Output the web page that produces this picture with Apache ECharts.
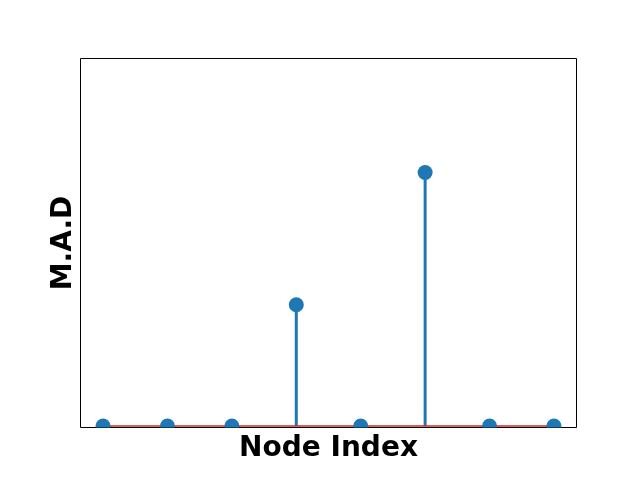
<!DOCTYPE html>
<html>
<head>
<meta charset="utf-8">
<script src="https://cdn.jsdelivr.net/npm/echarts@6/dist/echarts.min.js"></script>
<style>
  html, body { margin: 0; padding: 0; background: #fff; }
  #chart { width: 640px; height: 480px; }
</style>
</head>
<body>
<div id="chart"></div>
<script>
// node indices and their M.A.D values
const nodes = [0, 1, 2, 3, 4, 5, 6, 7];
const mad = [0, 0, 0, 0.33, 0, 0.69, 0, 0];
const baseline = 0;

const chart = echarts.init(document.getElementById('chart'));
const font = 'DejaVu Sans';

const options = {
  animation: false,
  grid: {
    left: 80.5, right: 63.5, top: 58.5, bottom: 52.5,
    show: true, borderColor: '#000', borderWidth: 1, backgroundColor: 'transparent',
  },
  xAxis: {
    type: 'value', min: -0.35, max: 7.35,
    name: 'Node Index', nameLocation: 'middle', nameGap: 7,
    nameTextStyle: { fontFamily: font, fontWeight: 'bold', fontSize: 28, color: '#000' },
    axisLine: { show: false }, axisTick: { show: false },
    axisLabel: { show: false }, splitLine: { show: false },
  },
  yAxis: {
    type: 'value', min: -0.004, max: 1,
    name: 'M.A.D', nameLocation: 'middle', nameGap: 3,
    nameTextStyle: { fontFamily: font, fontWeight: 'bold', fontSize: 28, color: '#000' },
    axisLine: { show: false }, axisTick: { show: false },
    axisLabel: { show: false }, splitLine: { show: false },
  },
  series: [
    {
      // stems
      type: 'bar',
      data: nodes.map((n, i) => [n, mad[i]]),
      barWidth: 3,
      itemStyle: { color: '#1f77b4' },
    },
    {
      // baseline
      type: 'line',
      data: [[nodes[0], baseline], [nodes[nodes.length - 1], baseline]],
      symbol: 'none',
      lineStyle: { color: '#d62728', width: 1.5 },
      z: 3,
    },
    {
      // markers, clipped at the axes like matplotlib
      type: 'custom',
      data: nodes.map((n, i) => [n, mad[i]]),
      clip: true,
      z: 4,
      renderItem(params, api) {
        const p = api.coord([api.value(0), api.value(1)]);
        return {
          type: 'circle',
          shape: { cx: p[0], cy: p[1], r: 7.5 },
          style: { fill: '#1f77b4' },
        };
      },
    },
  ],
};
chart.setOption(options);
</script>
</body>
</html>
